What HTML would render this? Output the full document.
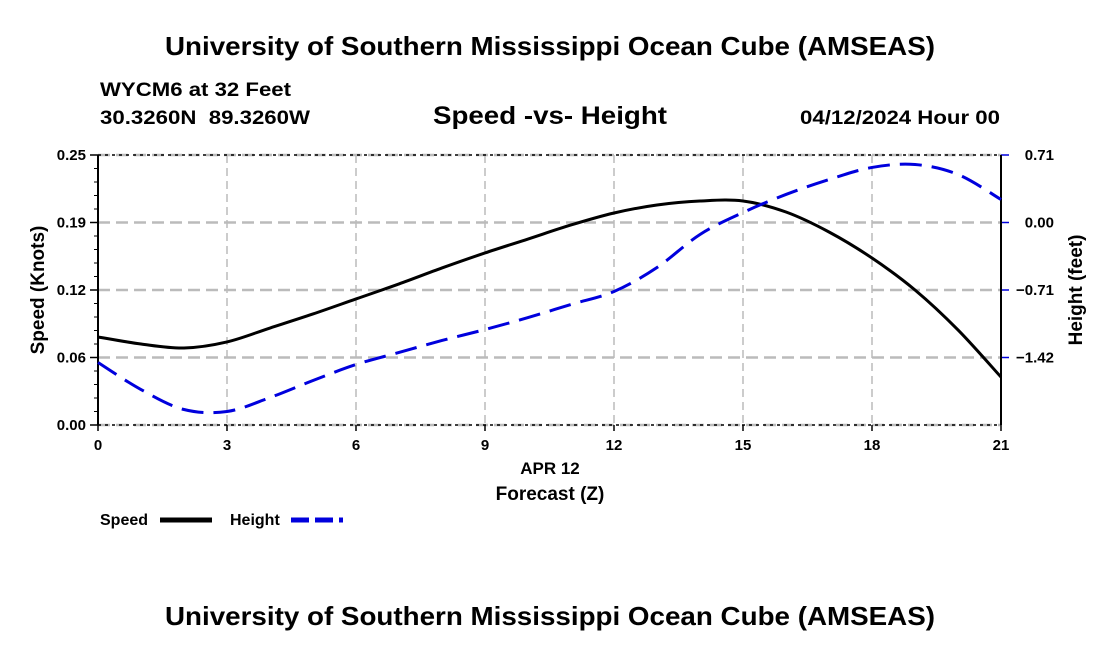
<!DOCTYPE html>
<html><head><meta charset="utf-8"><style>
body{margin:0;background:#fff;}
svg text{font-family:"Liberation Sans",Arial,sans-serif;font-weight:bold;fill:#000;}
</style></head><body>
<svg id="chart" width="1100" height="650" viewBox="0 0 1100 650" xmlns="http://www.w3.org/2000/svg">
<text x="165" y="55" font-size="26" textLength="770" lengthAdjust="spacingAndGlyphs">University of Southern Mississippi Ocean Cube (AMSEAS)</text>
<text x="100" y="96" font-size="19" textLength="191" lengthAdjust="spacingAndGlyphs">WYCM6 at 32 Feet</text>
<text x="100" y="124" font-size="19" style="white-space:pre" textLength="210" lengthAdjust="spacingAndGlyphs">30.3260N  89.3260W</text>
<text x="433" y="124" font-size="25" textLength="234" lengthAdjust="spacingAndGlyphs">Speed -vs- Height</text>
<text x="800" y="124" font-size="19" textLength="200" lengthAdjust="spacingAndGlyphs">04/12/2024 Hour 00</text>
<g id="grid"></g>
<g id="axes"></g>
<g id="series"></g>
<text x="550" y="474" font-size="17" text-anchor="middle">APR 12</text>
<text x="550" y="500" font-size="19" text-anchor="middle">Forecast (Z)</text>
<text transform="translate(44,290) rotate(-90)" font-size="19" text-anchor="middle">Speed (Knots)</text>
<text transform="translate(1082,290) rotate(-90)" font-size="19" text-anchor="middle">Height (feet)</text>
<g>
<text x="100" y="525" font-size="16">Speed</text>
<line x1="160" y1="520" x2="212" y2="520" stroke="#000" stroke-width="5"/>
<text x="230" y="525" font-size="16">Height</text>
<line x1="291" y1="520" x2="343" y2="520" stroke="#0000dd" stroke-width="5" stroke-dasharray="18,6"/>
</g>
<text x="165" y="625" font-size="26" textLength="770" lengthAdjust="spacingAndGlyphs">University of Southern Mississippi Ocean Cube (AMSEAS)</text>
</svg>
<script>
const hours = [0,1,2,3,4,5,6,7,8,9,10,11,12,13,14,15,16,17,18,19,20,21];
const speedValues = [0.0815,0.0750,0.0713,0.0769,0.0898,0.1028,0.1167,0.1306,0.1454,0.1593,0.1722,0.1852,0.1963,0.2037,0.2074,0.2074,0.1972,0.1787,0.1546,0.1250,0.0880,0.0444];
const heightValues = [-1.473,-1.757,-1.967,-1.988,-1.841,-1.662,-1.494,-1.367,-1.241,-1.126,-1.0,-0.862,-0.726,-0.473,-0.126,0.105,0.295,0.452,0.579,0.610,0.505,0.242];
const xTicks = [0,3,6,9,12,15,18,21];
const leftTicks = [0,0.0625,0.125,0.1875,0.25];
const leftTickLabels = ["0.00","0.06","0.12","0.19","0.25"];
const rightTicks = [0.71,0,-0.71,-1.42];
const rightTickLabels = ["0.71","0.00","\u22120.71","\u22121.42"];

const X0=98,X1=1001,Y0=155,Y1=425;
const xs=h=>X0+(h-0)/21*(X1-X0);
const yL=v=>Y1-(v-0)/0.25*(Y1-Y0);
const yR=v=>Y1-(v+2.13)/2.84*(Y1-Y0);
const NS="http://www.w3.org/2000/svg";
function mk(tag,attrs,parent){const e=document.createElementNS(NS,tag);for(const k in attrs)e.setAttribute(k,attrs[k]);parent.appendChild(e);return e;}
const grid=document.getElementById('grid'),axes=document.getElementById('axes'),series=document.getElementById('series');

xTicks.forEach((t,i)=>{
  if(t>0&&t<21){const l=mk('line',{x1:xs(t),x2:xs(t),y1:Y0,y2:Y1,stroke:'#bbb','stroke-width':1.5,'stroke-dasharray':'8,5'},grid);
  
  }
  const tk=mk('line',{x1:xs(t),x2:xs(t),y1:Y1,y2:Y1+6,stroke:'#000','stroke-width':1.5},axes);
  
  
  const tx=mk('text',{x:xs(t),y:Y1+25,'font-size':15,'text-anchor':'middle'},axes);tx.textContent=t;
  
  
});
leftTicks.forEach((v,i)=>{
  const l=mk('line',{x1:X0,x2:X1,y1:yL(v),y2:yL(v),stroke:'#bbb','stroke-width':2.5,'stroke-dasharray':'12,6'},grid);
  
  
  const tk=mk('line',{x1:X0-8,x2:X0,y1:yL(v),y2:yL(v),stroke:'#000','stroke-width':1.5},axes);
  
  
  const tx=mk('text',{x:X0-12,y:yL(v)+5,'font-size':15,'text-anchor':'end'},axes);tx.textContent=leftTickLabels[i];
  
  
});
for(let k=0;k<=20;k++){const v=k*0.0125;mk('line',{x1:X0-4,x2:X0,y1:yL(v),y2:yL(v),stroke:'#000','stroke-width':1},axes);}
rightTicks.forEach((v,i)=>{
  const tk=mk('line',{x1:X1,x2:X1+8,y1:yR(v),y2:yR(v),stroke:'#0000dd','stroke-width':1.5},axes);
  
  
  const tx=mk('text',{x:1054,y:yR(v)+5,'font-size':15,'text-anchor':'end'},axes);tx.textContent=rightTickLabels[i];
  
  
});
[Y0,Y1].forEach(y=>{mk('line',{x1:X0,x2:X1,y1:y,y2:y,stroke:'#000','stroke-width':1.5,'stroke-dasharray':'3,4'},axes);});
mk('line',{x1:X0,x2:X0,y1:Y0,y2:Y1,stroke:'#000','stroke-width':2},axes);
mk('line',{x1:X1,x2:X1,y1:Y0,y2:Y1,stroke:'#000','stroke-width':2},axes);

function smooth(pts){let d=`M${pts[0][0]},${pts[0][1]}`;
  for(let i=0;i<pts.length-1;i++){const p0=pts[i-1]||pts[i],p1=pts[i],p2=pts[i+1],p3=pts[i+2]||p2;
    d+=` C${p1[0]+(p2[0]-p0[0])/6},${p1[1]+(p2[1]-p0[1])/6} ${p2[0]-(p3[0]-p1[0])/6},${p2[1]-(p3[1]-p1[1])/6} ${p2[0]},${p2[1]}`;}
  return d;}
const sp=mk('path',{d:smooth(hours.map((h,i)=>[xs(h),yL(speedValues[i])])),fill:'none',stroke:'#000','stroke-width':3},series);


const hp=mk('path',{d:smooth(hours.map((h,i)=>[xs(h),yR(heightValues[i])])),fill:'none',stroke:'#0000dd','stroke-width':3,'stroke-dasharray':'22,10'},series);


</script>
</body></html>
